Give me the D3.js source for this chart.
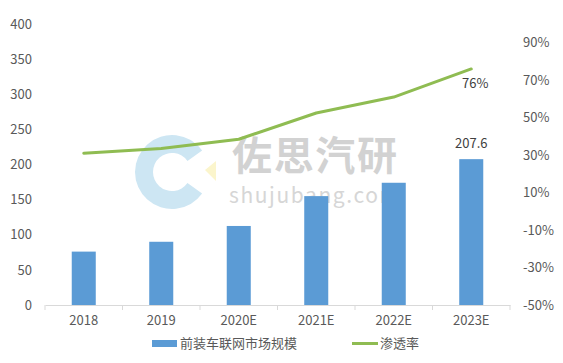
<!DOCTYPE html>
<html><head><meta charset="utf-8">
<script src="https://cdn.jsdelivr.net/npm/d3@7/dist/d3.min.js"></script>
<style>
html,body{margin:0;padding:0;background:#fff;}
text{font-family:"Noto Sans CJK SC","Noto Sans",sans-serif;}
</style></head>
<body>
<svg id="chart" width="563" height="363"></svg>
<script>
const categories = ["2018","2019","2020E","2021E","2022E","2023E"];
const marketSize = [76, 90, 112.5, 155, 174, 207.6];
const penetration = [31, 33.5, 38.5, 52.5, 61, 76];
const leftTicks = [0,50,100,150,200,250,300,350,400];
const rightTicks = [-50,-30,-10,10,30,50,70,90];
const seriesNames = ["前装车联网市场规模","渗透率"];

const svg = d3.select("#chart");
const x = d3.scaleBand().domain(categories).range([45,510]).paddingInner(0.69).paddingOuter(0.345);
const y = d3.scaleLinear().domain([0,400]).range([305,24]);
const y2 = d3.scaleLinear().domain([-50,100]).range([305,24]);
const textColor = "#595959";

// watermark
const wm = svg.append("g");
const arc = d3.arc().innerRadius(19).outerRadius(37).startAngle(Math.PI*0.5+0.62).endAngle(Math.PI*2.5-0.62);
wm.append("path").attr("d",arc()).attr("transform","translate(172,172)").attr("fill","#cde6f3");
wm.append("path").attr("d","M205,170 L216,161 L216,181 Z").attr("fill","#fbf5cc");
wm.append("text").attr("x",232).attr("y",170).attr("font-size",40).attr("font-weight","bold")
  .attr("fill","#d2d2d2").attr("textLength",165).text("佐思汽研");
wm.append("text").attr("x",229).attr("y",203).attr("font-size",21).attr("font-family","'DejaVu Sans',sans-serif")
  .attr("fill","#d6d6d6").attr("textLength",170).text("shujubang.com");

// bars
svg.append("g").selectAll("rect").data(categories).join("rect")
  .attr("x",d=>x(d)).attr("width",x.bandwidth())
  .attr("y",(d,i)=>y(marketSize[i])).attr("height",(d,i)=>y(0)-y(marketSize[i]))
  .attr("fill","#5b9bd5");

// x axis
const xAxis = svg.append("g").attr("transform","translate(0,305)")
  .call(d3.axisBottom(x).tickSize(0).tickPadding(11));
xAxis.select(".domain").attr("stroke","#d9d9d9");
xAxis.selectAll("text").attr("font-size",13).attr("fill",textColor);
const step = x.step();
svg.append("g").selectAll("line").data(d3.range(categories.length+1)).join("line")
  .attr("x1",i=>45+i*step).attr("x2",i=>45+i*step).attr("y1",305).attr("y2",310).attr("stroke","#d9d9d9");

// left axis
const yAxis = svg.append("g").attr("transform","translate(32,0)")
  .call(d3.axisLeft(y).tickValues(leftTicks).tickSize(0).tickPadding(0));
yAxis.select(".domain").remove();
yAxis.selectAll("text").attr("font-size",13).attr("fill",textColor);

// right axis
const y2Axis = svg.append("g").attr("transform","translate(523,0)")
  .call(d3.axisRight(y2).tickValues(rightTicks).tickSize(0).tickPadding(0).tickFormat(d=>d+"%"));
y2Axis.select(".domain").remove();
y2Axis.selectAll("text").attr("font-size",13).attr("fill",textColor);

// line
const line = d3.line().x((d,i)=>x(categories[i])+x.bandwidth()/2).y(d=>y2(d));
svg.append("path").datum(penetration).attr("d",line).attr("fill","none")
  .attr("stroke","#8fbc52").attr("stroke-width",3).attr("stroke-linecap","round").attr("stroke-linejoin","round");

// data labels
const last = categories.length-1;
svg.append("text").attr("x",x(categories[last])+x.bandwidth()/2).attr("y",y(marketSize[last])-11)
  .attr("text-anchor","middle").attr("font-size",13).attr("fill","#404040").text(marketSize[last]);
svg.append("text").attr("x",x(categories[last])+x.bandwidth()/2+4).attr("y",y2(penetration[last])+19)
  .attr("text-anchor","middle").attr("font-size",13).attr("fill","#404040").text(penetration[last]+"%");

// legend
const lg = svg.append("g");
lg.append("rect").attr("x",152).attr("y",340).attr("width",25).attr("height",7).attr("fill","#5b9bd5");
lg.append("text").attr("x",180).attr("y",343).attr("dy","0.35em").attr("font-size",13).attr("fill",textColor).text(seriesNames[0]);
lg.append("line").attr("x1",352).attr("x2",378).attr("y1",343.5).attr("y2",343.5).attr("stroke","#8fbc52").attr("stroke-width",3);
lg.append("text").attr("x",380).attr("y",343).attr("dy","0.35em").attr("font-size",13).attr("fill",textColor).text(seriesNames[1]);
</script>
</body></html>
